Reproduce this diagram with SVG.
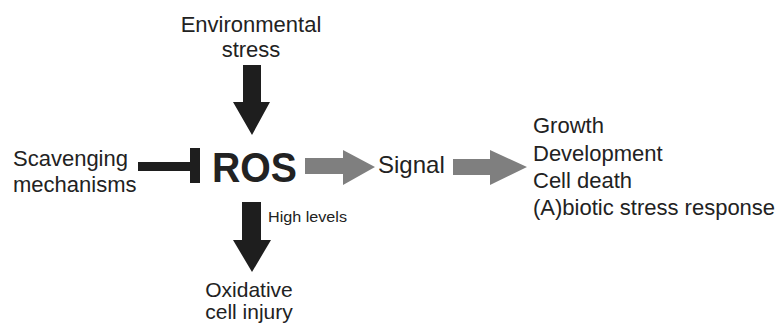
<svg xmlns="http://www.w3.org/2000/svg" width="780" height="327" viewBox="0 0 780 327">
<style>
text{font-family:"Liberation Sans",Arial,sans-serif;fill:#222;font-size:22px}
.c{text-anchor:middle}
.dark{fill:#1e1e1e}
.gray{fill:#7f7f7f}
</style>
<rect width="780" height="327" fill="#fff"/>
<g id="env"><text class="c" x="251" y="32">Environmental</text><text class="c" x="251" y="57">stress</text></g>
<g id="scav"><text x="13" y="166">Scavenging</text><text x="13" y="192">mechanisms</text></g>
<g id="ros"><text x="212" y="182" style="font-size:42px;font-weight:bold" textLength="85" lengthAdjust="spacingAndGlyphs">ROS</text></g>
<g id="signal"><text x="378" y="173" style="font-size:24px">Signal</text></g>
<g id="out"><text x="533" y="133">Growth</text><text x="533" y="161">Development</text><text x="533" y="188">Cell death</text><text x="533" y="215">(A)biotic stress response</text></g>
<g id="ox"><text class="c" x="249" y="297" style="font-size:21px">Oxidative</text><text class="c" x="249" y="319" style="font-size:21px">cell injury</text></g>
<g id="connectors">
<polygon class="dark" points="243,65 261,65 261,102 270,102 252,135 233,102 243,102"/>
<polygon class="dark" points="242,202 261,202 261,240 271,240 252,272 233,240 242,240"/>
<text x="268" y="222" style="font-size:15.5px" textLength="79" lengthAdjust="spacingAndGlyphs">High levels</text>
<rect class="dark" x="138" y="162" width="54" height="9"/>
<rect class="dark" x="190" y="148" width="10" height="35"/>
<polygon class="gray" points="305,158 343,158 343,150 375,167 343,185 343,174 305,174"/>
<polygon class="gray" points="453,159 490,159 490,150 527,167 490,185 490,175 453,175"/>
</g>
</svg>
